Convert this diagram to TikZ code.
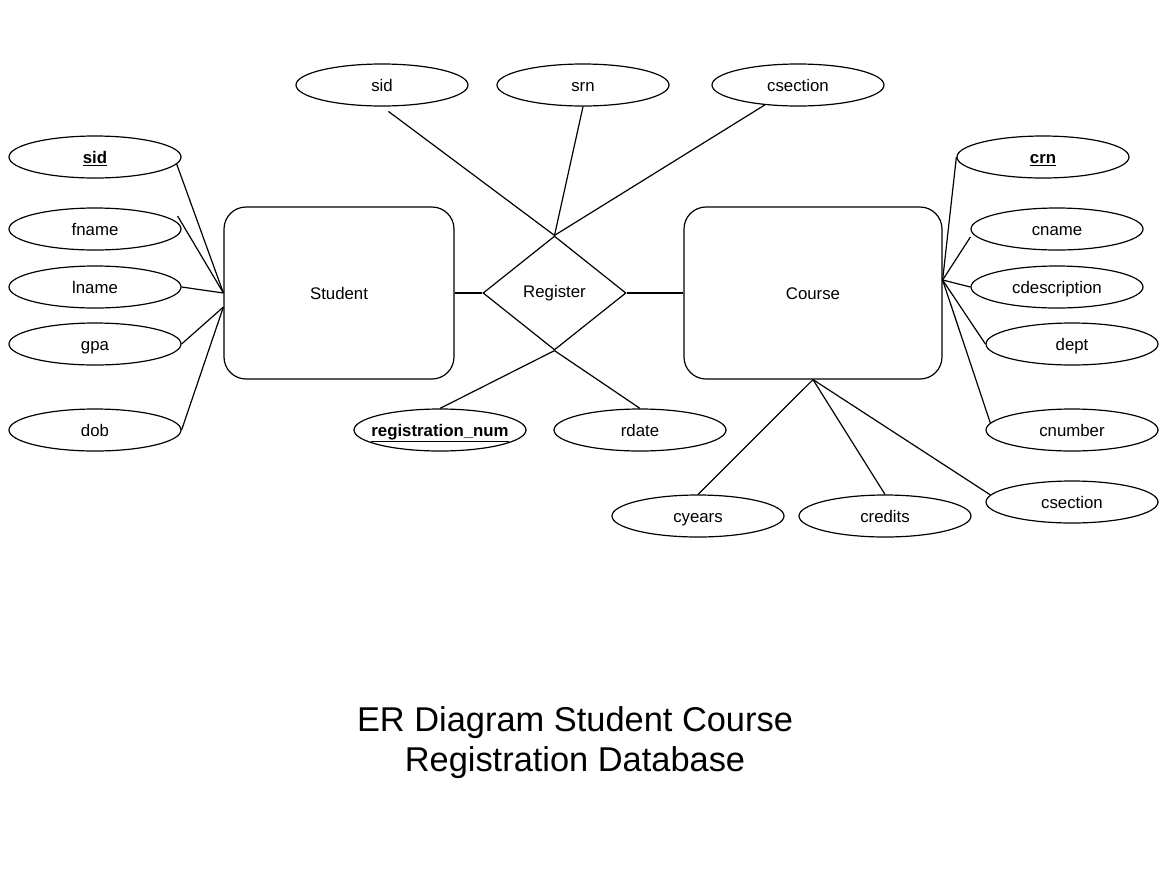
\documentclass[tikz,border=0pt]{standalone}
\usepackage{fontspec}
\setmainfont{Liberation Sans}
\usetikzlibrary{shapes.geometric}

\begin{document}
\begin{tikzpicture}[x=1pt,y=-1pt]
\tikzstyle{link} = [line width=1.2pt]
\tikzstyle{entity} = [draw,line width=1.2pt,rounded corners=22pt,minimum height=172,text height=16pt,text depth=3.5pt,font=\fontsize{16.8}{20}\selectfont]
\tikzstyle{attr} = [draw,ellipse,line width=1.2pt,inner sep=0,minimum width=172,minimum height=42,text height=16pt,text depth=3.5pt,font=\fontsize{16.8}{20}\selectfont]
\tikzstyle{rel} = [draw,diamond,line width=1.2pt,inner sep=0,minimum width=143,minimum height=114,font=\fontsize{16.8}{20}\selectfont]
\newcommand{\keyattr}[1]{\underline{\textbf{#1}}}

\useasboundingbox (0,0) rectangle (1171,887);

% entities and relationship
\node(student)[entity, minimum width=230] at (339,293) {Student};
\node(course)[entity, minimum width=258] at (813,293) {Course};
\node(reg)[rel] at (554.5,293) {Register};

% student attributes
\node(sid)[attr] at (95,157) {\keyattr{sid}};
\node(fname)[attr] at (95,229) {fname};
\node(lname)[attr] at (95,287) {lname};
\node(gpa)[attr] at (95,344) {gpa};
\node(dob)[attr] at (95,430) {dob};

% register attributes
\node(regsid)[attr] at (382,85) {sid};
\node(srn)[attr] at (583,85) {srn};
\node(regcsec)[attr] at (798,85) {csection};
\node(regnum)[attr] at (440,430) {\makebox[0pt]{\keyattr{registration\_num}}};
\node(rdate)[attr] at (640,430) {rdate};

% course attributes
\node(crn)[attr] at (1043,157) {\keyattr{crn}};
\node(cname)[attr] at (1057,229) {cname};
\node(cdesc)[attr] at (1057,287) {cdescription};
\node(dept)[attr] at (1072,344) {dept};
\node(cnumber)[attr] at (1072,430) {cnumber};
\node(csection)[attr] at (1072,502) {csection};
\node(cyears)[attr] at (698,516) {cyears};
\node(credits)[attr] at (885,516) {credits};

\coordinate(stulow) at ([yshift=-14pt]student.west);
\coordinate(crsjoin) at ([yshift=13pt]course.east);

\draw [link] (sid.-5) -- (student.west);
\draw [link] ([xshift=-4pt,yshift=13pt]fname.east) -- (student.west);
\draw [link] (lname.east) -- (student.west);
\draw [link] (gpa.east) -- (stulow);
\draw [link] (dob.east) -- (stulow);

\draw [link] (student.east) -- (reg.west);
\draw [link] (reg.east) -- (course.west);

\draw [link, shorten <=8pt] (regsid.south) -- (reg.north);
\draw [link] (srn.south) -- (reg.north);
\draw [link] (regcsec.-149) -- (reg.north);
\draw [link] (regnum.north) -- (reg.south);
\draw [link] (rdate.north) -- (reg.south);

\draw [link] (crn.west) -- (crsjoin);
\draw [link] ([yshift=-8pt]cname.west) -- (crsjoin);
\draw [link] (cdesc.west) -- (crsjoin);
\draw [link] (dept.west) -- (crsjoin);
\draw [link] (cnumber.175) -- (crsjoin);
\draw [link] (csection.175) -- (course.south);
\draw [link] (cyears.north) -- (course.south);
\draw [link] (credits.north) -- (course.south);

\node(title)[align=center,font=\fontsize{34.4}{40}\selectfont] at (575,743) {ER Diagram Student Course\\Registration Database};
\end{tikzpicture}
\end{document}
